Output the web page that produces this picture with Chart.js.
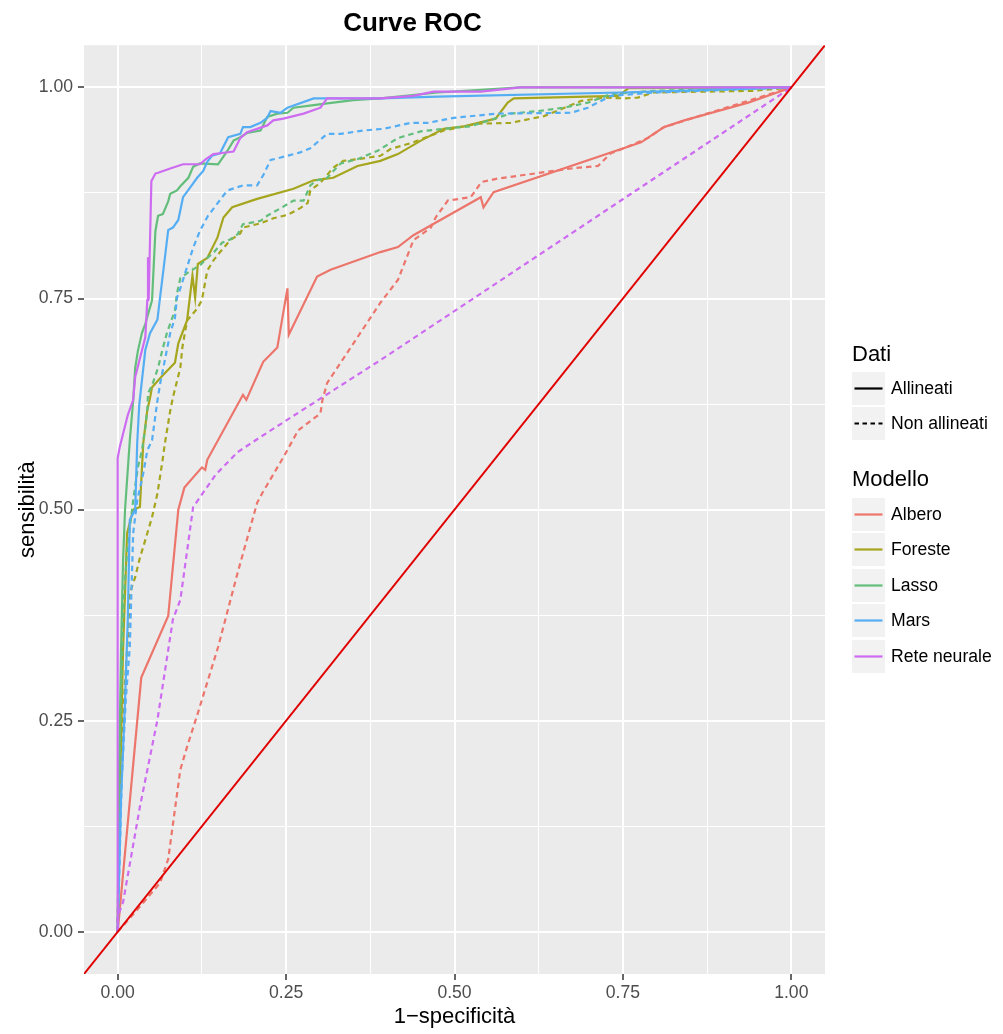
<!DOCTYPE html>
<html>
<head>
<meta charset="utf-8">
<script src="https://cdn.jsdelivr.net/npm/chart.js@4.4.0/dist/chart.umd.min.js"></script>
<style>
  body { margin: 0; background: #fff; font-family: "Liberation Sans", Arial, sans-serif; }
  #wrap { position: relative; width: 1003px; height: 1034px; }
  .leg-title { position: absolute; left: 852px; font-size: 22px; line-height: 22px; color: #000; }
  .leg-row { position: absolute; left: 852px; height: 33px; display: flex; align-items: center; }
  .leg-key { width: 33px; height: 33px; background: #f2f2f2; display: flex; align-items: center; justify-content: center; }
  .leg-lab { margin-left: 6px; font-size: 17.6px; color: #000; white-space: nowrap; }
</style>
</head>
<body>
<div id="wrap">
  <canvas id="grafico_roc"></canvas>
</div>
<script>
// valori
const modelli = ['Albero', 'Foreste', 'Lasso', 'Mars', 'Rete neurale'];
const dati = ['Allineati', 'Non allineati'];
const coloriModelli = ['#EC756C', '#A6A51E', '#63BE7C', '#55AEF4', '#CD6CF1'];
const tickValori = [0, 0.125, 0.25, 0.375, 0.5, 0.625, 0.75, 0.875, 1];

const alberoAllFpr = [0, 0.035, 0.075, 0.090, 0.099, 0.125, 0.130, 0.133, 0.186, 0.191, 0.216, 0.237, 0.252, 0.254, 0.296, 0.316, 0.390, 0.416, 0.439, 0.539, 0.543, 0.558, 0.777, 0.811, 0.841, 0.936, 1];
const alberoAllTpr = [0, 0.301, 0.374, 0.500, 0.526, 0.550, 0.547, 0.559, 0.636, 0.630, 0.675, 0.692, 0.762, 0.707, 0.776, 0.784, 0.805, 0.811, 0.825, 0.870, 0.858, 0.876, 0.935, 0.953, 0.961, 0.982, 1];
const alberoNonFpr = [0, 0.029, 0.063, 0.075, 0.093, 0.103, 0.119, 0.149, 0.178, 0.207, 0.215, 0.246, 0.268, 0.301, 0.304, 0.311, 0.390, 0.416, 0.439, 0.465, 0.472, 0.490, 0.524, 0.540, 0.564, 0.673, 0.713, 0.732, 0.752, 0.787, 0.811, 0.851, 1];
const alberoNonTpr = [0, 0.026, 0.058, 0.086, 0.192, 0.219, 0.259, 0.337, 0.425, 0.508, 0.520, 0.562, 0.594, 0.614, 0.630, 0.650, 0.745, 0.772, 0.819, 0.834, 0.846, 0.866, 0.870, 0.888, 0.892, 0.904, 0.907, 0.922, 0.928, 0.940, 0.953, 0.963, 1];

const foresteAllFpr = [0, 0.003, 0.008, 0.014, 0.023, 0.033, 0.038, 0.044, 0.048, 0.051, 0.067, 0.085, 0.090, 0.103, 0.111, 0.115, 0.119, 0.133, 0.148, 0.157, 0.170, 0.207, 0.261, 0.291, 0.320, 0.356, 0.390, 0.416, 0.450, 0.484, 0.514, 0.561, 0.579, 0.588, 0.743, 0.758, 1];
const foresteAllTpr = [0, 0.157, 0.334, 0.472, 0.500, 0.503, 0.579, 0.618, 0.632, 0.645, 0.659, 0.674, 0.697, 0.724, 0.777, 0.751, 0.791, 0.798, 0.822, 0.846, 0.858, 0.868, 0.880, 0.890, 0.893, 0.907, 0.913, 0.921, 0.937, 0.951, 0.954, 0.963, 0.982, 0.987, 0.990, 0.999, 1];
const foresteNonFpr = [0, 0.002, 0.006, 0.011, 0.015, 0.018, 0.026, 0.033, 0.038, 0.051, 0.059, 0.066, 0.070, 0.078, 0.082, 0.093, 0.096, 0.103, 0.118, 0.125, 0.133, 0.142, 0.152, 0.167, 0.182, 0.186, 0.212, 0.231, 0.252, 0.271, 0.282, 0.286, 0.301, 0.320, 0.335, 0.356, 0.390, 0.405, 0.439, 0.484, 0.534, 0.583, 0.633, 0.688, 0.722, 0.752, 0.772, 0.796, 0.945, 1];
const foresteNonTpr = [0, 0.132, 0.227, 0.298, 0.346, 0.401, 0.420, 0.443, 0.456, 0.491, 0.519, 0.555, 0.578, 0.617, 0.633, 0.668, 0.692, 0.724, 0.738, 0.748, 0.783, 0.795, 0.805, 0.819, 0.827, 0.834, 0.839, 0.845, 0.849, 0.857, 0.863, 0.878, 0.887, 0.905, 0.913, 0.915, 0.919, 0.927, 0.935, 0.949, 0.957, 0.958, 0.966, 0.984, 0.988, 0.987, 0.988, 0.994, 0.996, 1];

const lassoAllFpr = [0, 0.002, 0.005, 0.008, 0.011, 0.018, 0.023, 0.026, 0.030, 0.036, 0.041, 0.051, 0.056, 0.060, 0.067, 0.075, 0.078, 0.088, 0.093, 0.105, 0.112, 0.122, 0.149, 0.163, 0.172, 0.182, 0.192, 0.212, 0.222, 0.237, 0.252, 0.261, 0.291, 0.311, 0.350, 0.390, 0.475, 0.598, 1];
const lassoAllTpr = [0, 0.180, 0.334, 0.440, 0.501, 0.582, 0.629, 0.668, 0.688, 0.709, 0.720, 0.748, 0.830, 0.848, 0.850, 0.865, 0.874, 0.878, 0.883, 0.893, 0.906, 0.910, 0.909, 0.925, 0.937, 0.941, 0.946, 0.949, 0.965, 0.969, 0.970, 0.976, 0.979, 0.981, 0.985, 0.987, 0.994, 1, 1];
const lassoNonFpr = [0, 0.002, 0.005, 0.009, 0.014, 0.023, 0.030, 0.036, 0.041, 0.044, 0.045, 0.051, 0.060, 0.066, 0.073, 0.085, 0.088, 0.093, 0.103, 0.115, 0.122, 0.133, 0.142, 0.155, 0.167, 0.178, 0.186, 0.212, 0.222, 0.242, 0.261, 0.276, 0.286, 0.296, 0.311, 0.331, 0.356, 0.386, 0.416, 0.450, 0.484, 0.524, 0.583, 0.624, 0.662, 0.698, 0.732, 0.796, 1];
const lassoNonTpr = [0, 0.180, 0.275, 0.393, 0.452, 0.511, 0.550, 0.570, 0.597, 0.618, 0.638, 0.647, 0.668, 0.688, 0.709, 0.736, 0.756, 0.774, 0.780, 0.786, 0.789, 0.798, 0.804, 0.816, 0.820, 0.826, 0.838, 0.842, 0.848, 0.857, 0.866, 0.866, 0.884, 0.890, 0.893, 0.910, 0.915, 0.925, 0.940, 0.948, 0.951, 0.954, 0.969, 0.972, 0.976, 0.982, 0.992, 0.996, 1];

const marsAllFpr = [0, 0.005, 0.011, 0.015, 0.018, 0.026, 0.029, 0.032, 0.041, 0.048, 0.059, 0.063, 0.067, 0.075, 0.082, 0.090, 0.097, 0.108, 0.118, 0.127, 0.133, 0.140, 0.152, 0.164, 0.182, 0.186, 0.197, 0.212, 0.222, 0.227, 0.242, 0.252, 0.291, 0.390, 0.475, 0.747, 1];
const marsAllTpr = [0, 0.157, 0.275, 0.370, 0.488, 0.500, 0.579, 0.624, 0.689, 0.709, 0.725, 0.752, 0.778, 0.831, 0.834, 0.843, 0.870, 0.882, 0.893, 0.901, 0.912, 0.919, 0.922, 0.941, 0.945, 0.953, 0.953, 0.958, 0.964, 0.972, 0.970, 0.976, 0.987, 0.987, 0.989, 0.994, 1];
const marsNonFpr = [0, 0.006, 0.012, 0.018, 0.023, 0.029, 0.038, 0.044, 0.051, 0.059, 0.063, 0.078, 0.085, 0.088, 0.093, 0.112, 0.122, 0.134, 0.140, 0.155, 0.163, 0.186, 0.207, 0.216, 0.227, 0.242, 0.271, 0.286, 0.311, 0.331, 0.365, 0.395, 0.435, 0.460, 0.499, 0.564, 0.673, 0.698, 0.732, 0.796, 1];
const marsNonTpr = [0, 0.180, 0.275, 0.338, 0.472, 0.511, 0.543, 0.570, 0.582, 0.629, 0.649, 0.709, 0.727, 0.751, 0.762, 0.810, 0.830, 0.848, 0.854, 0.870, 0.878, 0.884, 0.884, 0.896, 0.914, 0.917, 0.923, 0.928, 0.945, 0.945, 0.949, 0.951, 0.958, 0.958, 0.964, 0.969, 0.970, 0.976, 0.990, 0.994, 1];

const reteAllFpr = [0, 0, 0.003, 0.015, 0.023, 0.026, 0.041, 0.044, 0.045, 0.046, 0.050, 0.056, 0.060, 0.078, 0.097, 0.122, 0.131, 0.142, 0.152, 0.172, 0.182, 0.192, 0.222, 0.231, 0.246, 0.276, 0.301, 0.311, 0.390, 0.439, 0.469, 0.539, 0.598, 1];
const reteAllTpr = [0, 0.561, 0.574, 0.612, 0.630, 0.657, 0.704, 0.748, 0.799, 0.748, 0.889, 0.898, 0.899, 0.904, 0.909, 0.909, 0.915, 0.921, 0.922, 0.924, 0.940, 0.947, 0.955, 0.961, 0.963, 0.969, 0.976, 0.987, 0.987, 0.990, 0.995, 0.995, 1, 1];
const reteNonFpr = [0, 0, 0.008, 0.033, 0.059, 0.082, 0.093, 0.112, 0.119, 0.140, 0.145, 0.178, 0.212, 0.390, 1];
const reteNonTpr = [0, 0.018, 0.035, 0.148, 0.251, 0.370, 0.393, 0.503, 0.511, 0.535, 0.541, 0.568, 0.586, 0.677, 1];

const diagonale = [-0.05, 1.05];

const curve = [
    [alberoAllFpr, alberoAllTpr, alberoNonFpr, alberoNonTpr],
    [foresteAllFpr, foresteAllTpr, foresteNonFpr, foresteNonTpr],
    [lassoAllFpr, lassoAllTpr, lassoNonFpr, lassoNonTpr],
    [marsAllFpr, marsAllTpr, marsNonFpr, marsNonTpr],
    [reteAllFpr, reteAllTpr, reteNonFpr, reteNonTpr]
];

function punti(xs, ys) {
    const n = Math.min(xs.length, ys.length);
    const out = [];
    for (let i = 0; i < n; i++) out.push({ x: xs[i], y: ys[i] });
    return out;
}

function isMajor(v) {
    return Math.abs(v * 4 - Math.round(v * 4)) < 1e-6;
}

const datasets = [];
curve.forEach((c, i) => {
    datasets.push({
        label: modelli[i] + ' - ' + dati[0],
        data: punti(c[0], c[1]),
        borderColor: coloriModelli[i],
        borderWidth: 2.2,
        borderDash: []
    });
    datasets.push({
        label: modelli[i] + ' - ' + dati[1],
        data: punti(c[2], c[3]),
        borderColor: coloriModelli[i],
        borderWidth: 2.2,
        borderDash: [5.5, 4]
    });
});
datasets.push({
    label: 'diagonale',
    data: punti(diagonale, diagonale),
    borderColor: 'rgb(225,0,0)',
    borderWidth: 2,
    borderDash: []
});
datasets.forEach((d, i) => {
    d.order = -i;
    d.pointRadius = 0;
    d.tension = 0;
    d.fill = false;
});

const sfondoPannello = {
    id: 'sfondoPannello',
    beforeDraw(chart) {
        const a = chart.chartArea;
        const ctx = chart.ctx;
        ctx.save();
        ctx.fillStyle = '#ebebeb';
        ctx.fillRect(a.left, a.top, a.right - a.left, a.bottom - a.top);
        ctx.restore();
    }
};

function asse(titolo, isX) {
    return {
        type: 'linear',
        min: -0.05,
        max: 1.05,
        afterBuildTicks: (scale) => {
            scale.ticks = tickValori.map(v => ({ value: v }));
        },
        afterFit: (scale) => {
            if (isX) scale.height = 60; else scale.width = 84;
        },
        border: { display: false },
        grid: {
            color: '#ffffff',
            lineWidth: (ctx) => (ctx.tick && isMajor(ctx.tick.value)) ? 2 : 1,
            tickColor: (ctx) => (ctx.tick && isMajor(ctx.tick.value)) ? '#333333' : 'rgba(0,0,0,0)',
            tickLength: 6,
            tickWidth: 1.5
        },
        ticks: {
            autoSkip: false,
            maxRotation: 0,
            padding: isX ? 3 : 5,
            color: '#4d4d4d',
            font: { size: 17.6 },
            callback: (value) => isMajor(value) ? value.toFixed(2) : ''
        },
        title: {
            display: true,
            text: titolo,
            color: '#000',
            font: { size: 22 },
            padding: isX ? { top: 0, bottom: 4 } : { top: 15, bottom: 0 }
        }
    };
}

Chart.defaults.font.family = '"Liberation Sans", Arial, sans-serif';

new Chart(document.getElementById('grafico_roc'), {
    type: 'line',
    data: { datasets: datasets },
    plugins: [sfondoPannello],
    options: {
        responsive: true,
        maintainAspectRatio: false,
        animation: false,
        parsing: true,
        layout: { padding: { left: 0, right: 178, top: 0, bottom: 0 } },
        plugins: {
            legend: { display: false },
            tooltip: { enabled: false },
            title: {
                display: true,
                text: 'Curve ROC',
                color: '#000',
                font: { size: 26, weight: 'bold' },
                padding: { top: 8, bottom: 6 }
            }
        },
        scales: {
            x: asse('1\u2212specificit\u00e0', true),
            y: asse('sensibilit\u00e0', false)
        }
    }
});

// legenda in HTML
const wrap = document.getElementById('wrap');
function aggiungiTitolo(testo, top) {
    const d = document.createElement('div');
    d.className = 'leg-title';
    d.style.top = top + 'px';
    d.textContent = testo;
    wrap.appendChild(d);
}
function aggiungiVoce(testo, top, colore, tratteggio) {
    const r = document.createElement('div');
    r.className = 'leg-row';
    r.style.top = top + 'px';
    const k = document.createElement('div');
    k.className = 'leg-key';
    k.innerHTML = '<svg width="33" height="33"><line x1="2.5" y1="16.5" x2="30.5" y2="16.5" stroke="' + colore +
        '" stroke-width="2.2"' + (tratteggio ? ' stroke-dasharray="4.5,3.5"' : '') + '/></svg>';
    const l = document.createElement('div');
    l.className = 'leg-lab';
    l.textContent = testo;
    r.appendChild(k);
    r.appendChild(l);
    wrap.appendChild(r);
}
aggiungiTitolo('Dati', 343);
dati.forEach((t, i) => aggiungiVoce(t, 371.5 + i * 35.5, '#000', i === 1));
aggiungiTitolo('Modello', 468);
modelli.forEach((t, i) => aggiungiVoce(t, 497.5 + i * 35.6, coloriModelli[i], false));
</script>
</body>
</html>
